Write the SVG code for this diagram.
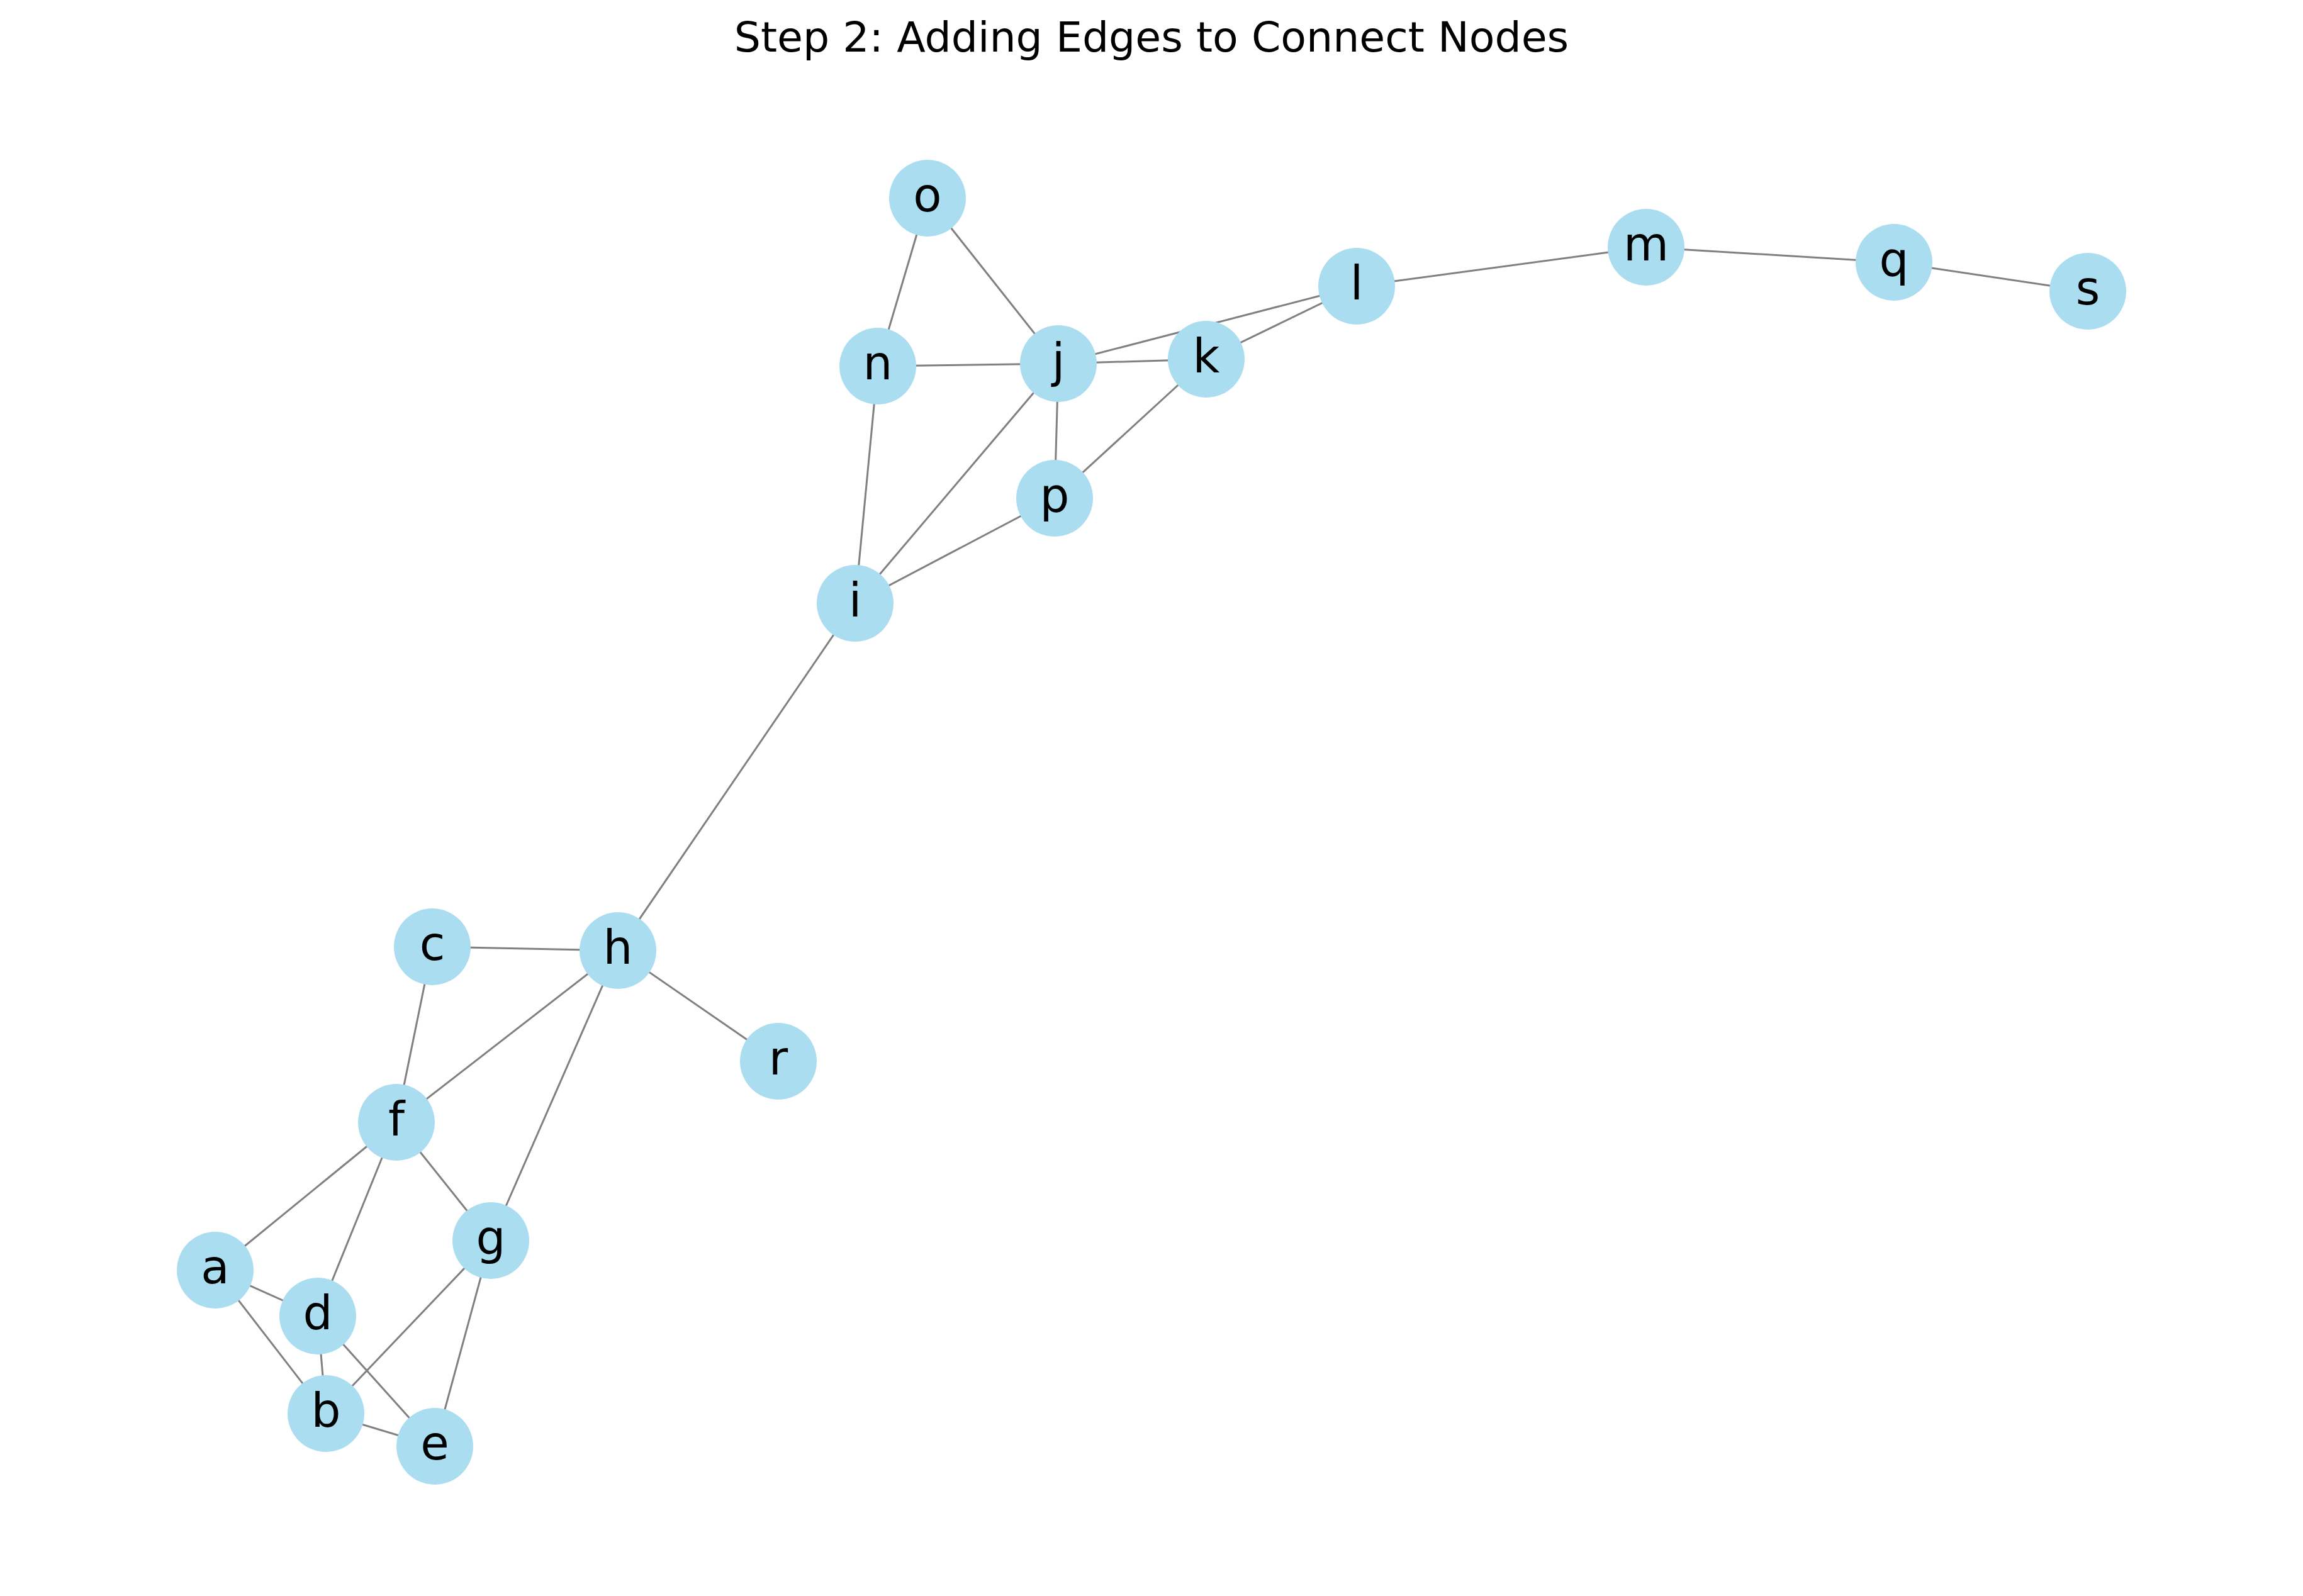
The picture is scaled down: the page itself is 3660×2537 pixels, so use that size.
<svg xmlns="http://www.w3.org/2000/svg" width="3660" height="2537" viewBox="0 0 3660 2537">
<style>
.e{stroke:#808080;stroke-width:3;fill:none}
.n circle{fill:#abddf1}
.n text{font-family:"DejaVu Sans",sans-serif;font-size:74px;fill:#000;text-anchor:middle}
.t{font-family:"DejaVu Sans",sans-serif;font-size:66.5px;fill:#000;text-anchor:middle}
</style>
<rect width="3660" height="2537" fill="#fff"/>
<text class="t" x="1830" y="82">Step 2: Adding Edges to Connect Nodes</text>
<g id="edges" class="e">
<line x1="1474" y1="315" x2="1395" y2="582"/>
<line x1="1474" y1="315" x2="1682" y2="578"/>
<line x1="1395" y1="582" x2="1682" y2="578"/>
<line x1="1682" y1="578" x2="1917" y2="571"/>
<line x1="1682" y1="578" x2="2156" y2="455"/>
<line x1="1917" y1="571" x2="2156" y2="455"/>
<line x1="1682" y1="578" x2="1676" y2="792"/>
<line x1="1917" y1="571" x2="1676" y2="792"/>
<line x1="1395" y1="582" x2="1359" y2="959"/>
<line x1="1682" y1="578" x2="1359" y2="959"/>
<line x1="1676" y1="792" x2="1359" y2="959"/>
<line x1="1359" y1="959" x2="982" y2="1511"/>
<line x1="2156" y1="455" x2="2616" y2="393"/>
<line x1="2616" y1="393" x2="3010" y2="417"/>
<line x1="3010" y1="417" x2="3318" y2="463"/>
<line x1="687" y1="1505" x2="982" y2="1511"/>
<line x1="687" y1="1505" x2="630" y2="1784"/>
<line x1="982" y1="1511" x2="630" y2="1784"/>
<line x1="982" y1="1511" x2="780" y2="1972"/>
<line x1="982" y1="1511" x2="1237" y2="1687"/>
<line x1="630" y1="1784" x2="342" y2="2019"/>
<line x1="630" y1="1784" x2="505" y2="2092"/>
<line x1="630" y1="1784" x2="780" y2="1972"/>
<line x1="342" y1="2019" x2="505" y2="2092"/>
<line x1="342" y1="2019" x2="518" y2="2247"/>
<line x1="505" y1="2092" x2="518" y2="2247"/>
<line x1="505" y1="2092" x2="691" y2="2299"/>
<line x1="780" y1="1972" x2="518" y2="2247"/>
<line x1="780" y1="1972" x2="691" y2="2299"/>
<line x1="518" y1="2247" x2="691" y2="2299"/>
</g>
<g id="node-a" class="n"><circle cx="342" cy="2019" r="61"/><text x="342" y="2040">a</text></g>
<g id="node-b" class="n"><circle cx="518" cy="2247" r="61"/><text x="518" y="2268">b</text></g>
<g id="node-c" class="n"><circle cx="687" cy="1505" r="61"/><text x="687" y="1526">c</text></g>
<g id="node-d" class="n"><circle cx="505" cy="2092" r="61"/><text x="505" y="2113">d</text></g>
<g id="node-e" class="n"><circle cx="691" cy="2299" r="61"/><text x="691" y="2320">e</text></g>
<g id="node-f" class="n"><circle cx="630" cy="1784" r="61"/><text x="630" y="1805">f</text></g>
<g id="node-g" class="n"><circle cx="780" cy="1972" r="61"/><text x="780" y="1993">g</text></g>
<g id="node-h" class="n"><circle cx="982" cy="1511" r="61"/><text x="982" y="1532">h</text></g>
<g id="node-i" class="n"><circle cx="1359" cy="959" r="61"/><text x="1359" y="980">i</text></g>
<g id="node-j" class="n"><circle cx="1682" cy="578" r="61"/><text x="1682" y="599">j</text></g>
<g id="node-k" class="n"><circle cx="1917" cy="571" r="61"/><text x="1917" y="592">k</text></g>
<g id="node-l" class="n"><circle cx="2156" cy="455" r="61"/><text x="2156" y="476">l</text></g>
<g id="node-m" class="n"><circle cx="2616" cy="393" r="61"/><text x="2616" y="414">m</text></g>
<g id="node-n" class="n"><circle cx="1395" cy="582" r="61"/><text x="1395" y="603">n</text></g>
<g id="node-o" class="n"><circle cx="1474" cy="315" r="61"/><text x="1474" y="336">o</text></g>
<g id="node-p" class="n"><circle cx="1676" cy="792" r="61"/><text x="1676" y="813">p</text></g>
<g id="node-q" class="n"><circle cx="3010" cy="417" r="61"/><text x="3010" y="438">q</text></g>
<g id="node-r" class="n"><circle cx="1237" cy="1687" r="61"/><text x="1237" y="1708">r</text></g>
<g id="node-s" class="n"><circle cx="3318" cy="463" r="61"/><text x="3318" y="484">s</text></g>
</svg>
